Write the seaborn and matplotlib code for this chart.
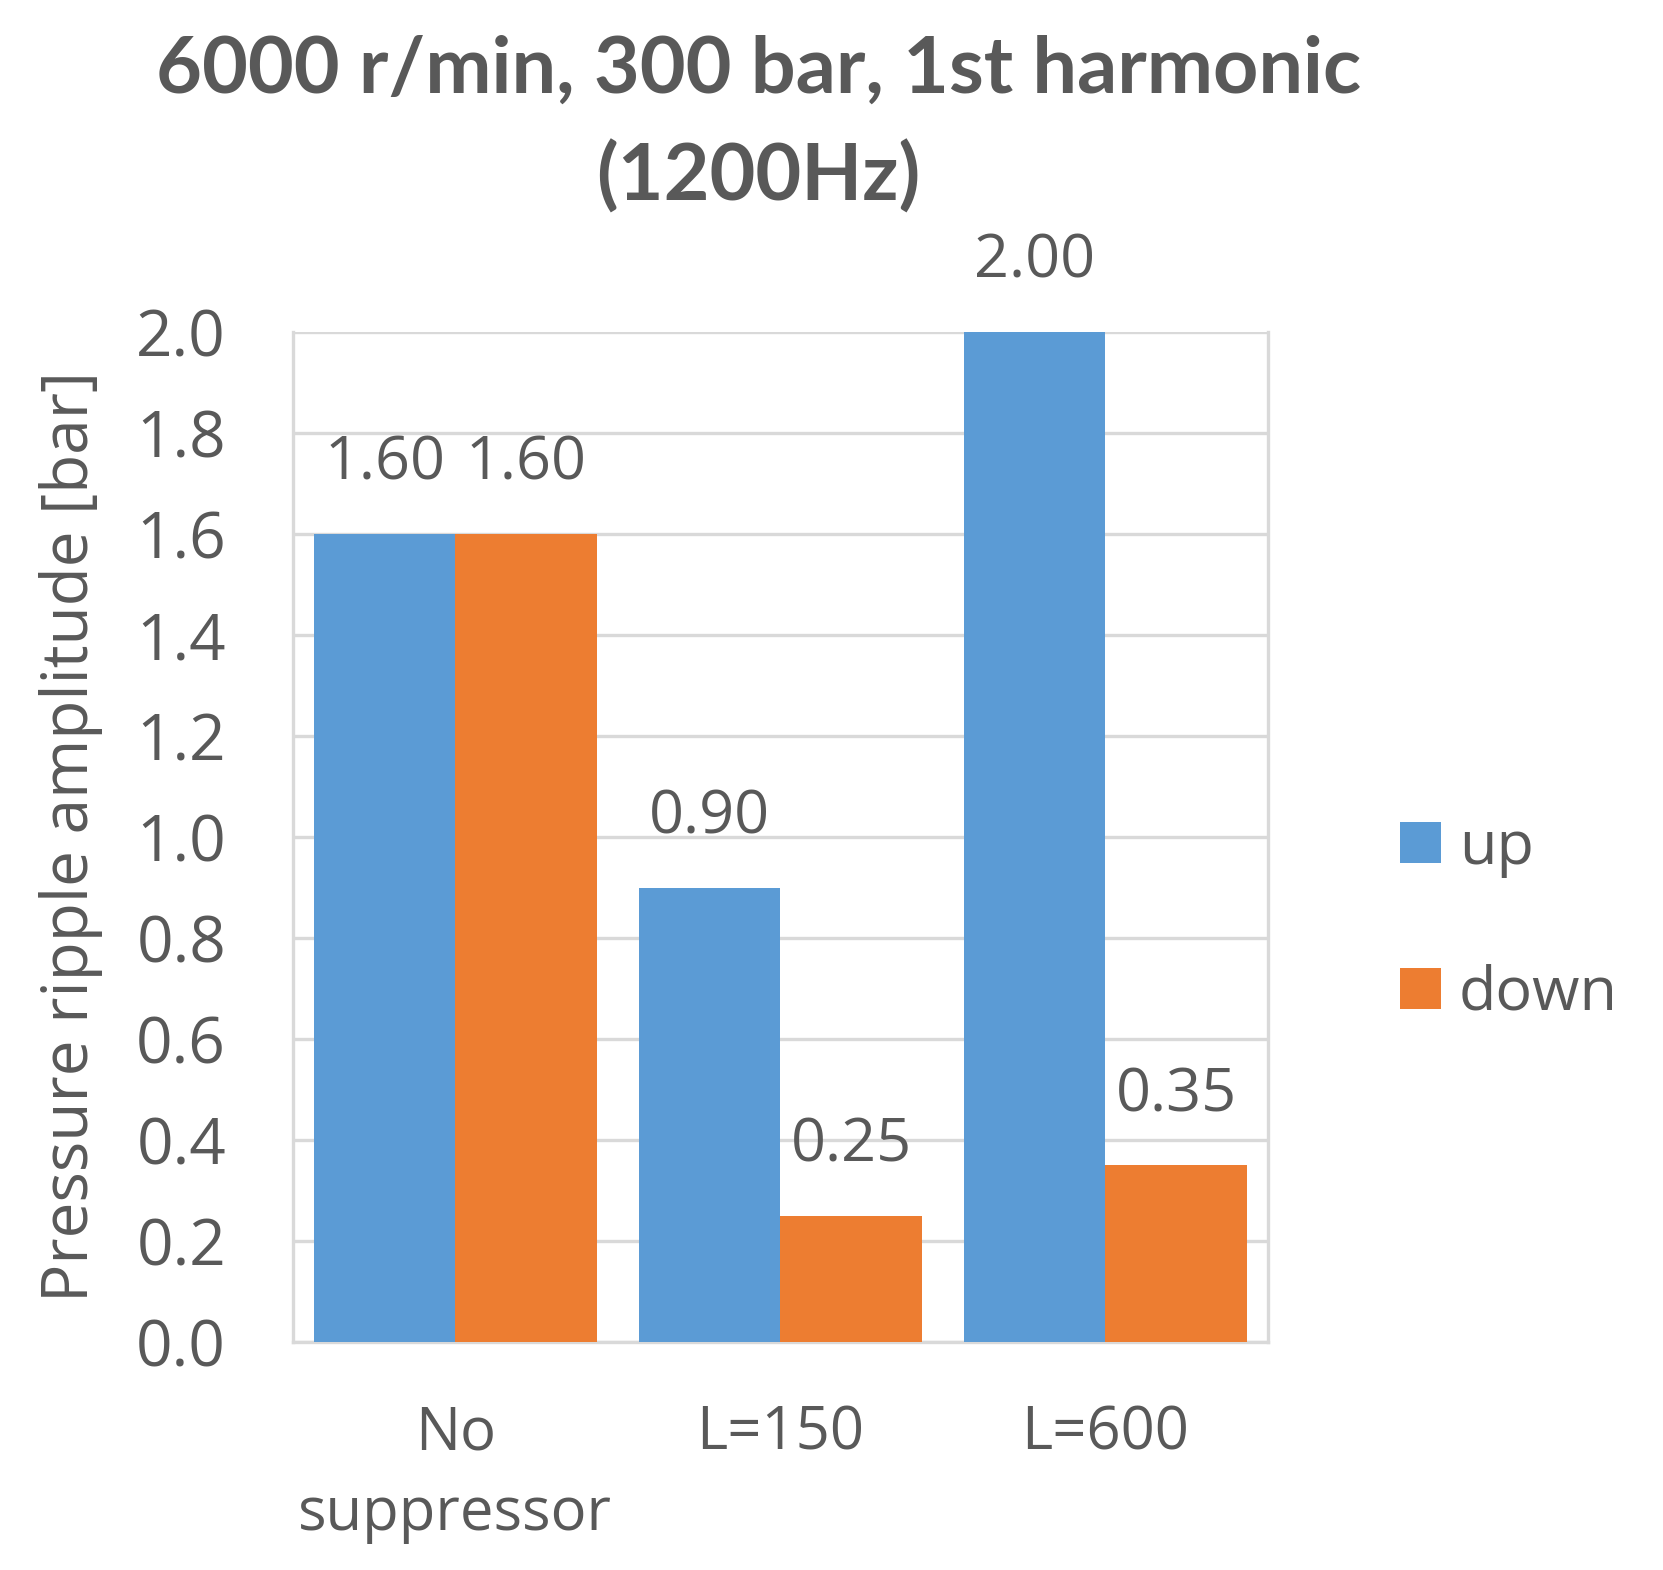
import matplotlib
matplotlib.use("Agg")
import matplotlib.pyplot as plt
import pandas as pd
import seaborn as sns

categories = ["No\nsuppressor", "L=150", "L=600"]
up = [1.60, 0.90, 2.00]
down = [1.60, 0.25, 0.35]
series_names = ["up", "down"]
colors = ["#5B9BD5", "#ED7D31"]
yticks = [0.0, 0.2, 0.4, 0.6, 0.8, 1.0, 1.2, 1.4, 1.6, 1.8, 2.0]

text_color = "#595959"
grid_color = "#D9D9D9"

sns.set_theme(style="white")
plt.rcParams["font.family"] = ["Open Sans", "DejaVu Sans"]

df = pd.DataFrame({
    "category": categories * 2,
    "series": [series_names[0]] * len(up) + [series_names[1]] * len(down),
    "value": up + down,
})

fig = plt.figure(figsize=(16.63, 15.70), dpi=100)
ax = fig.add_axes([0.176, 0.1452, 0.7625 - 0.176, 0.7885 - 0.1452])

sns.barplot(data=df, x="category", y="value", hue="series", order=categories,
            hue_order=series_names, palette=colors, saturation=1, width=0.87,
            errorbar=None, linewidth=0, ax=ax, zorder=3)

for cont in ax.containers:
    ax.bar_label(cont, fmt="%.2f", padding=29, fontsize=44, color=text_color)

ax.set_ylim(0, 2.0)
ax.set_xlim(-0.5, 2.5)
ax.set_yticks(yticks)
ax.set_yticklabels([f"{t:.1f}" for t in yticks])
ax.yaxis.grid(True, color=grid_color, linewidth=2.4, zorder=0)
ax.set_axisbelow(True)
ax.tick_params(axis="y", labelsize=46, colors=text_color, pad=48, length=0)
ax.tick_params(axis="x", labelsize=43, colors=text_color, pad=44, length=0)
for lab in ax.get_xticklabels():
    lab.set_linespacing(1.45)

ax.set_xlabel("")
ax.set_ylabel("Pressure ripple amplitude [bar]", fontsize=46, color=text_color, labelpad=24)

for side in ["left", "right", "bottom"]:
    ax.spines[side].set_color(grid_color)
    ax.spines[side].set_linewidth(2.4)
ax.spines["top"].set_visible(False)

handles, labels = ax.get_legend_handles_labels()
ax.legend_.remove()
fig.legend(handles, labels, loc="center left", bbox_to_anchor=(0.842, 0.4134),
           frameon=False, fontsize=44, handlelength=0.66, handleheight=0.66,
           handletextpad=0.3, labelspacing=1.4, borderpad=0, borderaxespad=0,
           labelcolor=text_color)

fig.text(0.456, 0.9206, "6000 r/min, 300 bar, 1st harmonic\n(1200Hz)",
         ha="center", va="center", fontsize=57, fontweight="bold",
         color=text_color, family=["Lato", "DejaVu Sans"], linespacing=1.55)

fig.savefig("out.png", dpi=100)
